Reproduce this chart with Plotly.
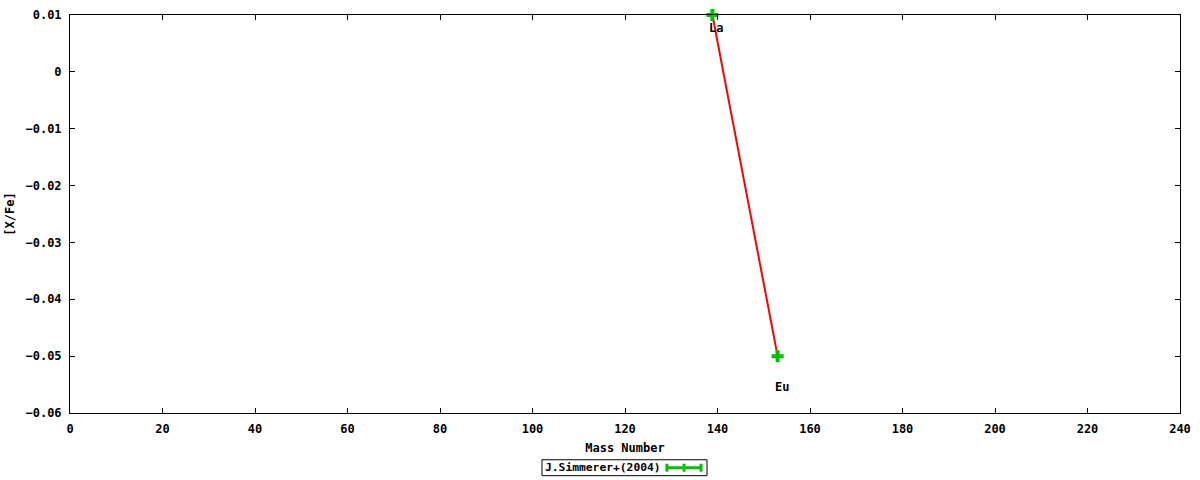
import plotly.graph_objects as go

# element data
elements = ["La", "Eu"]
mass_number = [138.9, 153.0]
x_fe = [0.01, -0.05]
label_drop = [-13, -31]  # how far each label sits under its point (px)

series_name = "J.Simmerer+(2004)"

GREEN = "#00c000"
RED = "#ff0000"
FONT = dict(family="DejaVu Sans Mono", size=12, color="black", weight="bold")
KEY_FONT = dict(FONT, size=11.3)

fig = go.Figure()

# red connecting line
fig.add_trace(go.Scatter(
    x=mass_number, y=x_fe, mode="lines",
    line=dict(color=RED, width=2),
    showlegend=False, hoverinfo="skip",
))

# green points
fig.add_trace(go.Scatter(
    x=mass_number, y=x_fe, mode="markers",
    marker=dict(symbol="cross", size=10, color=GREEN),
    name=series_name, showlegend=False, cliponaxis=False,
))

for name, xv, yv, dy in zip(elements, mass_number, x_fe, label_drop):
    fig.add_annotation(x=xv, y=yv, text=name, showarrow=False,
                       xshift=4, yshift=dy, font=FONT)

# hand made gnuplot-like key, below the axis title
fig.add_shape(type="rect", xref="paper", yref="paper",
              x0=0.4252, x1=0.5739, y0=-0.1575, y1=-0.1175,
              line=dict(color="black", width=1), fillcolor="white")
fig.add_annotation(xref="paper", yref="paper", x=0.4262, y=-0.1375,
                   xanchor="left", yanchor="middle", text=series_name,
                   showarrow=False, font=KEY_FONT)
fig.add_shape(type="line", xref="paper", yref="paper",
              x0=0.5378, x1=0.5685, y0=-0.1375, y1=-0.1375,
              line=dict(color=GREEN, width=3))
for xk in (0.5378, 0.5532, 0.5685):
    fig.add_shape(type="line", xref="paper", yref="paper",
                  x0=xk, x1=xk, y0=-0.1475, y1=-0.1275,
                  line=dict(color=GREEN, width=3))

axis_common = dict(
    showgrid=False, zeroline=False,
    showline=True, linecolor="black", linewidth=1, mirror="allticks",
    ticks="inside", ticklen=5, tickcolor="black", tickwidth=1,
    tickfont=FONT, ticklabelstandoff=5,
)

fig.update_xaxes(range=[0, 240], dtick=20, tick0=0,
                 title=dict(text="Mass Number", font=FONT, standoff=8),
                 **axis_common)
fig.update_yaxes(range=[-0.06, 0.01], dtick=0.01, tick0=0,
                 tickformat="~g",
                 title=dict(text="[X/Fe]", font=FONT, standoff=8),
                 **axis_common)

fig.update_layout(
    width=1200, height=480,
    margin=dict(l=70, r=20, t=8, b=67),
    paper_bgcolor="white", plot_bgcolor="white",
    font=FONT,
)

# drop the default page margin so the figure sits at the window corner
fig.write_html("out.html",
               config={"displayModeBar": False},
               post_script="document.body.style.margin='0';")
